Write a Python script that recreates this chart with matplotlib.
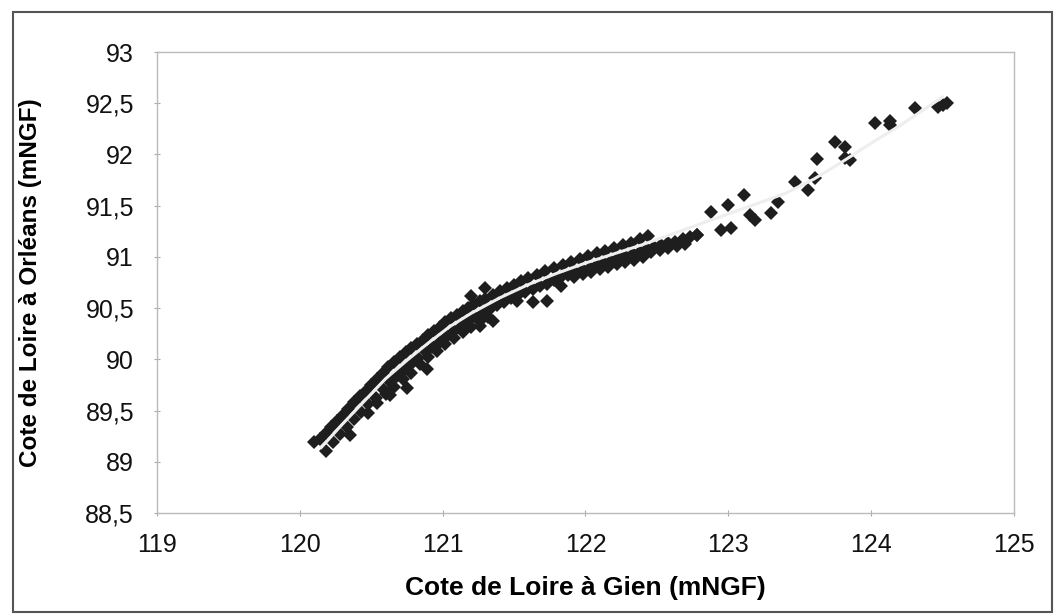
import matplotlib
matplotlib.use('Agg')
import matplotlib.pyplot as plt
from matplotlib.patches import Rectangle

plt.rcParams['font.family'] = ['Liberation Sans', 'DejaVu Sans']

# mesures Gien / Orléans (mNGF) relevées sur le graphique
# bande au-dessus de la courbe de tendance
haut_x = [120.10, 120.14, 120.18, 120.22, 120.26, 120.30, 120.34, 120.38, 120.42, 120.46,
          120.50, 120.54, 120.58, 120.62, 120.66, 120.70, 120.74, 120.78, 120.82, 120.86,
          120.90, 120.94, 120.98, 121.02, 121.06, 121.10, 121.14, 121.18, 121.22, 121.26,
          121.30, 121.35, 121.40, 121.45, 121.50, 121.55, 121.60, 121.66, 121.72, 121.78,
          121.84, 121.90, 121.96, 122.02, 122.08, 122.14, 122.20, 122.26, 122.32, 122.38,
          122.44, 121.20, 121.30]
haut_y = [89.19, 89.22, 89.28, 89.34, 89.40, 89.46, 89.52, 89.58, 89.64, 89.69,
          89.75, 89.81, 89.87, 89.93, 89.97, 90.02, 90.07, 90.11, 90.15, 90.19,
          90.24, 90.28, 90.32, 90.36, 90.40, 90.43, 90.47, 90.50, 90.54, 90.57,
          90.59, 90.63, 90.67, 90.70, 90.73, 90.76, 90.79, 90.82, 90.86, 90.89,
          90.92, 90.95, 90.98, 91.01, 91.04, 91.06, 91.09, 91.12, 91.14, 91.17,
          91.20, 90.62, 90.70]

# bande juste sous la courbe
bas1_x = [120.18, 120.23, 120.28, 120.33, 120.38, 120.43, 120.48, 120.53, 120.58, 120.63,
          120.68, 120.73, 120.78, 120.83, 120.88, 120.93, 120.98, 121.03, 121.08, 121.13,
          121.18, 121.23, 121.28, 121.33, 121.38, 121.43, 121.48, 121.53, 121.58, 121.63,
          121.68, 121.73, 121.78, 121.83, 121.88, 121.93, 121.98, 122.03, 122.08, 122.13,
          122.18, 122.23, 122.28, 122.33, 122.38, 122.43, 122.48, 122.53, 122.58, 122.63,
          122.68, 122.73, 122.78]
bas1_y = [89.11, 89.19, 89.27, 89.34, 89.42, 89.49, 89.56, 89.62, 89.71, 89.78,
          89.84, 89.90, 89.95, 90.01, 90.07, 90.12, 90.17, 90.23, 90.28, 90.32,
          90.37, 90.41, 90.45, 90.49, 90.53, 90.56, 90.60, 90.63, 90.66, 90.69,
          90.72, 90.74, 90.77, 90.80, 90.82, 90.85, 90.87, 90.89, 90.92, 90.94,
          90.96, 90.99, 91.01, 91.03, 91.05, 91.08, 91.10, 91.12, 91.14, 91.15,
          91.17, 91.19, 91.21]

# seconde rangée sous la courbe
bas2_x = [120.48, 120.54, 120.60, 120.66, 120.72, 120.78, 120.84, 120.90, 120.96, 121.02,
          121.08, 121.14, 121.20, 121.26, 121.32, 121.92, 121.98, 122.04, 122.10, 122.16,
          122.22, 122.28, 122.34, 122.40, 122.46, 122.52, 122.58, 122.64, 122.70]
bas2_y = [89.48, 89.57, 89.66, 89.73, 89.81, 89.87, 89.95, 90.02, 90.08, 90.15,
          90.21, 90.27, 90.32, 90.37, 90.41, 90.80, 90.83, 90.85, 90.88, 90.90,
          90.93, 90.95, 90.97, 91.00, 91.05, 91.07, 91.09, 91.11, 91.13]

# points isolés
iso_x = [120.35, 120.63, 120.75, 120.89, 121.26, 121.35, 121.52, 121.63, 121.73, 121.83,
         122.78, 122.88, 122.95, 123.00, 123.02, 123.11, 123.15, 123.19, 123.30, 123.35,
         123.47, 123.56, 123.61, 123.62, 123.75, 123.82, 123.82, 123.85, 124.03, 124.13,
         124.13, 124.31, 124.47, 124.50, 124.53]
iso_y = [89.26, 89.65, 89.72, 89.91, 90.33, 90.37, 90.57, 90.56, 90.57, 90.72,
         91.21, 91.44, 91.26, 91.51, 91.28, 91.60, 91.41, 91.36, 91.43, 91.54,
         91.73, 91.65, 91.77, 91.96, 92.12, 92.07, 91.97, 91.95, 92.31, 92.33,
         92.29, 92.45, 92.46, 92.48, 92.50]

# courbe de tendance (blanche)
tend_x = [120.15, 120.3, 120.45, 120.6, 120.75, 120.9, 121.05, 121.2, 121.4, 121.6,
          121.8, 122.0, 122.2, 122.4, 122.6, 122.8, 123.0, 123.2, 123.4, 123.6,
          123.8, 124.0, 124.2, 124.5]
tend_y = [89.14, 89.37, 89.59, 89.81, 89.99, 90.16, 90.32, 90.45, 90.60, 90.73,
          90.84, 90.94, 91.03, 91.12, 91.22, 91.32, 91.42, 91.52, 91.62, 91.76,
          91.93, 92.11, 92.28, 92.56]

xticks = [119, 120, 121, 122, 123, 124, 125]
yticks = [88.5, 89, 89.5, 90, 90.5, 91, 91.5, 92, 92.5, 93]
ylabels = ['88,5', '89', '89,5', '90', '90,5', '91', '91,5', '92', '92,5', '93']

fig = plt.figure(figsize=(10.55, 6.14), dpi=100)
ax = fig.add_axes([0.1488, 0.1645, 0.8123, 0.7508])

for px, py in [(haut_x, haut_y), (bas1_x, bas1_y), (bas2_x, bas2_y), (iso_x, iso_y)]:
    ax.plot(px, py, linestyle='none', marker='D', markersize=7,
            color='#1e1e1e', markeredgewidth=0, zorder=2)
ax.plot(tend_x, tend_y, color='#eeeeee', linewidth=2.2, zorder=3)

ax.set_xlim(119, 125)
ax.set_ylim(88.5, 93)
ax.set_xticks(xticks)
ax.set_xticklabels([str(t) for t in xticks])
ax.set_yticks(yticks)
ax.set_yticklabels(ylabels)
ax.tick_params(axis='both', labelsize=18, colors='#aaaaaa', labelcolor='#111111',
               direction='inout', length=5, width=0.8)
ax.tick_params(axis='x', pad=12)
ax.tick_params(axis='y', pad=14)

for s in ax.spines.values():
    s.set_color('#bbbbbb')
    s.set_linewidth(1.0)

ax.set_xlabel('Cote de Loire à Gien (mNGF)', fontsize=19, fontweight='bold')
ax.set_ylabel('Cote de Loire à Orléans (mNGF)', fontsize=17.5, fontweight='bold')
ax.xaxis.set_label_coords(0.5, -0.136)
ax.yaxis.set_label_coords(-0.134, 0.5)

# cadre extérieur
fig.patches.append(Rectangle((0.0123, 0.0033), 0.985, 0.977, transform=fig.transFigure,
                             fill=False, edgecolor='#555555', linewidth=1.5))

fig.savefig('out.png', dpi=100)
